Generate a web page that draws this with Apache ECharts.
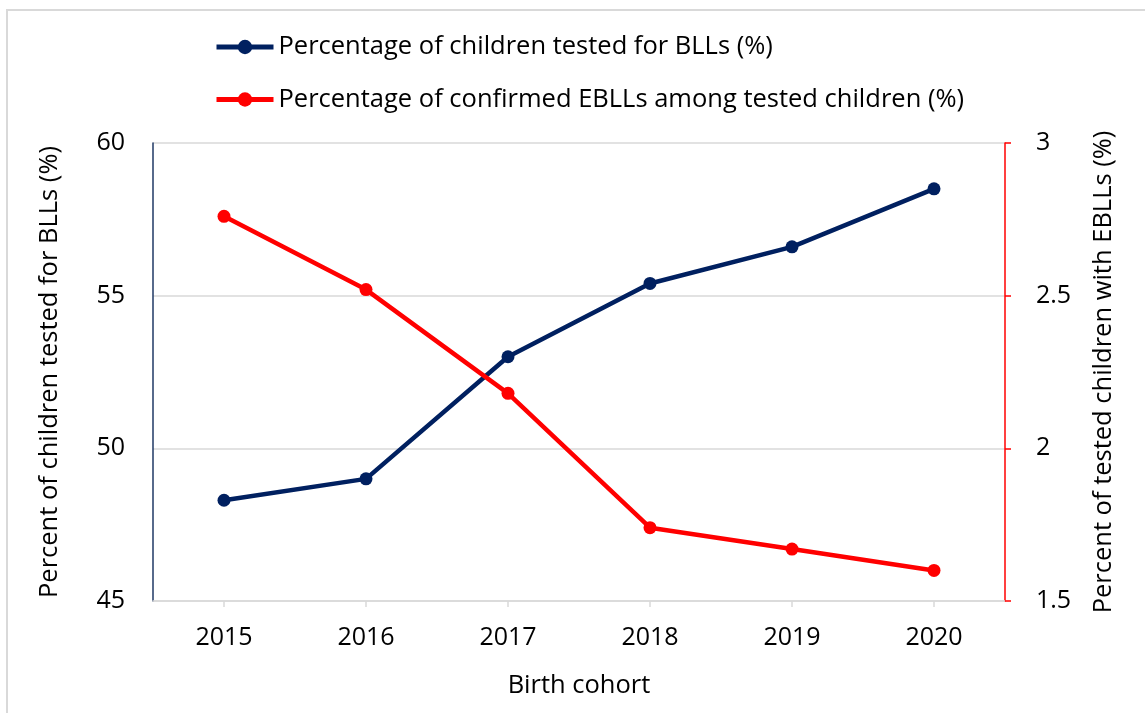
<!DOCTYPE html>
<html>
<head>
<meta charset="utf-8">
<script src="https://cdn.jsdelivr.net/npm/echarts@6/dist/echarts.min.js"></script>
<style>
html,body{margin:0;padding:0;background:#fff;}
#frame{position:absolute;left:6px;top:9px;width:1200px;height:800px;border-left:2px solid #d9d9d9;border-top:2px solid #d9d9d9;box-sizing:border-box;}
#chart{position:absolute;left:0;top:0;width:1145px;height:713px;}
</style>
</head>
<body>
<div id="frame"></div>
<div id="chart"></div>
<script>
const categories = ['2015','2016','2017','2018','2019','2020'];
const testedPct = [48.3, 49.0, 53.0, 55.4, 56.6, 58.5];
const ebllPct = [2.76, 2.52, 2.18, 1.74, 1.67, 1.60];
const seriesNames = ['Percentage of children tested for BLLs (%)', 'Percentage of confirmed EBLLs among tested children (%)'];
const leftTicks = [45, 50, 55, 60];
const rightTicks = [1.5, 2, 2.5, 3];

const FONT = "'Open Sans', sans-serif";
const chart = echarts.init(document.getElementById('chart'), null, {renderer:'canvas'});
chart.setOption({
  animation: false,
  backgroundColor: 'transparent',
  textStyle: {fontFamily: FONT, color: '#000'},
  legend: {
    orient: 'vertical',
    left: 209,
    top: 29,
    itemGap: 26.5,
    itemWidth: 57,
    itemHeight: 18,
    lineStyle: {width: 5},
    textStyle: {fontFamily: FONT, fontSize: 25.5, color: '#000', padding:[0,0,0,0]},
    data: seriesNames
  },
  grid: {left: 153, right: 140, top: 143, bottom: 112, containLabel: false},
  xAxis: {
    type: 'category',
    data: categories,
    boundaryGap: true,
    name: 'Birth cohort',
    nameLocation: 'middle',
    nameGap: 72,
    nameTextStyle: {fontFamily: FONT, fontSize: 25.5, color: '#000'},
    axisLine: {lineStyle: {color: '#d9d9d9', width: 1.5}},
    axisTick: {show: true, alignWithLabel: true, length: 6, lineStyle: {color: '#d9d9d9', width: 1.5}},
    axisLabel: {fontFamily: FONT, fontSize: 25, color: '#000', margin: 24}
  },
  yAxis: [{
    type: 'value',
    min: 45, max: 60, interval: 5,
    position: 'left',
    name: 'Percent of children tested for BLLs (%)',
    nameLocation: 'middle',
    nameRotate: 90,
    nameGap: 90,
    nameTextStyle: {fontFamily: FONT, fontSize: 25.5, color: '#000'},
    axisLine: {show: true, lineStyle: {color: '#1f3864', width: 1.5}},
    axisTick: {show: false},
    axisLabel: {fontFamily: FONT, fontSize: 25, color: '#000', margin: 28},
    splitLine: {show: true, lineStyle: {color: '#d9d9d9', width: 1.5}}
  }, {
    type: 'value',
    min: 1.5, max: 3, interval: 0.5,
    position: 'right',
    name: 'Percent of tested children with EBLLs (%)',
    nameLocation: 'middle',
    nameRotate: 90,
    nameGap: 86,
    nameTextStyle: {fontFamily: FONT, fontSize: 25.5, color: '#000'},
    axisLine: {show: true, lineStyle: {color: '#ff0000', width: 1.5}},
    axisTick: {show: true, inside: false, length: 6, lineStyle: {color: '#ff0000', width: 1.5}},
    axisLabel: {fontFamily: FONT, fontSize: 25, color: '#000', margin: 31},
    splitLine: {show: false}
  }],
  series: [{
    name: seriesNames[0],
    type: 'line',
    yAxisIndex: 0,
    data: testedPct,
    symbol: 'circle',
    symbolSize: 13,
    lineStyle: {color: '#002060', width: 4.5},
    itemStyle: {color: '#002060'}
  }, {
    name: seriesNames[1],
    type: 'line',
    yAxisIndex: 1,
    data: ebllPct,
    symbol: 'circle',
    symbolSize: 13,
    lineStyle: {color: '#ff0000', width: 4.5},
    itemStyle: {color: '#ff0000'}
  }]
});
</script>
</body>
</html>
